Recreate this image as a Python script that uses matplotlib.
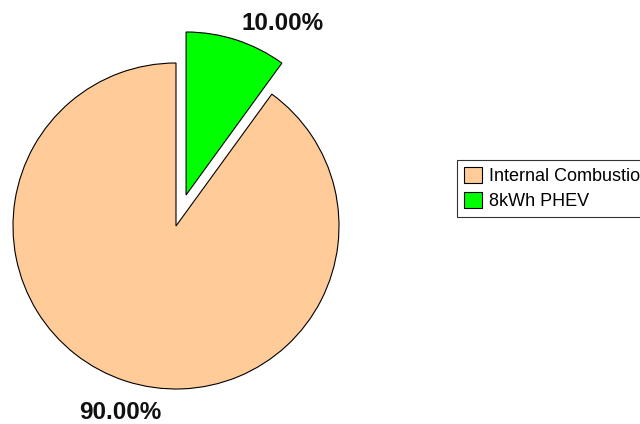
import matplotlib
matplotlib.use("Agg")
import matplotlib.pyplot as plt
import numpy as np

plt.rcParams['font.family'] = ['Liberation Sans', 'DejaVu Sans']

# data
labels = ['Internal Combustion', '8kWh PHEV']
shares = [90.0, 10.0]
colors = ['#FFCC99', '#00FF00']
explode_frac = [0.0, 0.2]

W, H = 640, 424
fig = plt.figure(figsize=(W / 100, H / 100), dpi=100)
ax = fig.add_axes([0, 0, 1, 1])
ax.axis('off')

# pie in pixel units: centre (176, 226 from top), radius 163
R = 163
cx, cy = 176, H - 226
# matplotlib's explode is absolute, so scale by radius
explode = [f * R for f in explode_frac]
wedges, texts, autotexts = ax.pie(
    shares, colors=colors, explode=explode, startangle=90, counterclock=True,
    center=(cx, cy), radius=R, autopct='%.2f%%', pctdistance=1.185,
    wedgeprops=dict(edgecolor='black', linewidth=0.8),
    textprops=dict(fontsize=17.5, fontweight='bold', color='#111111'))
ax.set_xlim(0, W)
ax.set_ylim(0, H)
ax.set_aspect('auto')

# nudge labels to where the original chart put them
x0, y0 = autotexts[0].get_position()
autotexts[0].set_position((x0 + 4, y0 - 3))
autotexts[1].set_position((cx + 107, H - 24))

leg = fig.legend(wedges, labels, loc='upper left',
                 bbox_to_anchor=(457 / W, 1 - 160 / H),
                 fontsize=13, frameon=True, fancybox=False, framealpha=1,
                 edgecolor='#333333', borderpad=0.4, handlelength=1.0,
                 handleheight=1.0, handletextpad=0.35, labelspacing=0.35,
                 borderaxespad=0)
leg.get_frame().set_linewidth(0.8)
for h in leg.legend_handles:
    h.set_edgecolor('black')
    h.set_linewidth(0.8)

fig.savefig('out.png', dpi=100)
